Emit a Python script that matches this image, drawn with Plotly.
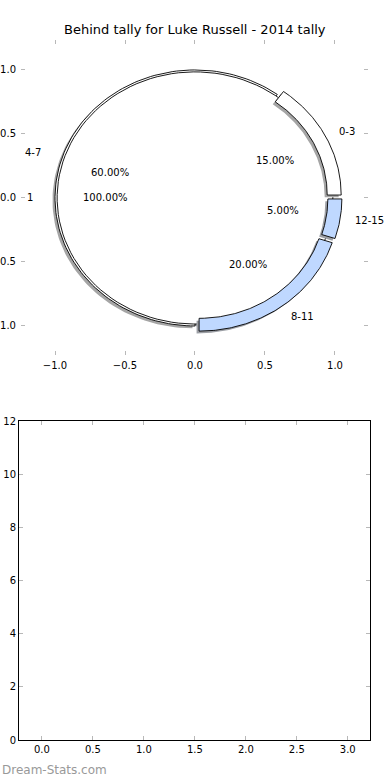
import numpy as np
import plotly.graph_objects as go

# ---------------- data ----------------
title_text = "Behind tally for Luke Russell - 2014 tally"
outer_labels = ["0-3", "4-7", "8-11", "12-15"]
outer_values = [15, 60, 20, 5]
outer_colors = ["#ffffff", "#ffffff", "#bfd8ff", "#bfd8ff"]
outer_explode = [0.05, 0.0, 0.05, 0.05]
inner_labels = ["1"]
inner_values = [100]
inner_colors = ["#ffffff"]
pie_ticks = [-1.0, -0.5, 0.0, 0.5, 1.0]
bottom_x_ticks = [0.0, 0.5, 1.0, 1.5, 2.0, 2.5, 3.0]
bottom_y_ticks = [0, 2, 4, 6, 8, 10, 12]
watermark_text = "Dream-Stats.com"

# ---------------- style ----------------
W, H = 390, 780
FONT = "DejaVu Sans"
START_ANGLE = 0.0
RING_IN, RING_OUT = 0.9, 1.0
INNER_R = 0.985
SHADOW = (-0.018, -0.018)
LABEL_R = 1.14
PCT_R = 0.64
TICK_COLOR = "#b8b8b8"


def shade(hex_color):
    h = hex_color.lstrip("#")
    r, g, b = (int(h[i:i + 2], 16) for i in (0, 2, 4))
    r, g, b = (int(0.5 * 0.3 * c + 0.5 * 255) for c in (r, g, b))
    return f"rgb({r},{g},{b})"


def wedge(t1, t2, r_in, r_out, cx=0.0, cy=0.0, n=120):
    th = np.radians(np.linspace(t1, t2, n))
    xo = cx + r_out * np.cos(th)
    yo = cy + r_out * np.sin(th)
    if r_in > 0:
        xi = cx + r_in * np.cos(th[::-1])
        yi = cy + r_in * np.sin(th[::-1])
    else:
        xi = np.array([cx]) if (t2 - t1) < 360 else np.array([])
        yi = np.array([cy]) if (t2 - t1) < 360 else np.array([])
    x = np.concatenate([xo, xi, xo[:1]])
    y = np.concatenate([yo, yi, yo[:1]])
    return x, y


def angles(values, start):
    total = float(sum(values))
    out = []
    a = start
    for v in values:
        d = 360.0 * v / total
        out.append((a, a + d))
        a += d
    return out


fig = go.Figure()


def add_poly(x, y, fill, line_color="black", line_width=0.9):
    fig.add_trace(go.Scatter(
        x=x, y=y, mode="lines", fill="toself", fillcolor=fill,
        line=dict(color=line_color, width=line_width),
        hoverinfo="skip", showlegend=False, xaxis="x", yaxis="y"))


outer_ang = angles(outer_values, START_ANGLE)
inner_ang = angles(inner_values, START_ANGLE)

# shadow of the inner pie (lowest)
for (t1, t2), col in zip(inner_ang, inner_colors):
    x, y = wedge(t1, t2, 0, INNER_R, SHADOW[0], SHADOW[1])
    add_poly(x, y, shade(col), line_color="rgba(0,0,0,0)", line_width=0)

# unexploded outer wedges (shadow + wedge), below the inner pie
for (t1, t2), col, ex in zip(outer_ang, outer_colors, outer_explode):
    if ex == 0:
        x, y = wedge(t1, t2, RING_IN, RING_OUT, SHADOW[0], SHADOW[1])
        add_poly(x, y, shade(col), line_color="rgba(0,0,0,0)", line_width=0)
for (t1, t2), col, ex in zip(outer_ang, outer_colors, outer_explode):
    if ex == 0:
        x, y = wedge(t1, t2, RING_IN, RING_OUT)
        add_poly(x, y, col)

# inner pie
for (t1, t2), col in zip(inner_ang, inner_colors):
    x, y = wedge(t1, t2, 0, INNER_R)
    add_poly(x, y, col)

# exploded outer wedges: shadows first, then wedges
exploded = []
for (t1, t2), col, ex in zip(outer_ang, outer_colors, outer_explode):
    if ex > 0:
        m = np.radians((t1 + t2) / 2)
        exploded.append((t1, t2, col, ex * np.cos(m), ex * np.sin(m)))
for t1, t2, col, cx, cy in exploded:
    x, y = wedge(t1, t2, RING_IN, RING_OUT, cx + SHADOW[0], cy + SHADOW[1])
    add_poly(x, y, shade(col), line_color="rgba(0,0,0,0)", line_width=0)
for t1, t2, col, cx, cy in exploded:
    x, y = wedge(t1, t2, RING_IN, RING_OUT, cx, cy)
    add_poly(x, y, col)

# labels
annotations = []
text_font = dict(family=FONT, size=10, color="black")
for lab, val, (t1, t2) in list(zip(outer_labels, outer_values, outer_ang)) + \
        list(zip(inner_labels, inner_values, inner_ang)):
    m = np.radians((t1 + t2) / 2)
    lx, ly = LABEL_R * np.cos(m), LABEL_R * np.sin(m)
    annotations.append(dict(
        x=lx, y=ly, xref="x", yref="y", text=lab, showarrow=False,
        xanchor="left" if np.cos(m) > 0 else "right", yanchor="middle",
        font=text_font))
    pct = 100.0 * val / sum(outer_values if lab in outer_labels else inner_values)
    annotations.append(dict(
        x=PCT_R * np.cos(m), y=PCT_R * np.sin(m), xref="x", yref="y",
        text=f"{pct:.2f}%", showarrow=False, xanchor="center", yanchor="middle",
        font=text_font))

annotations.append(dict(
    x=195 / W, y=1 - 30 / H, xref="paper", yref="paper", text=title_text,
    showarrow=False, xanchor="center", yanchor="middle",
    font=dict(family=FONT, size=13, color="black")))
annotations.append(dict(
    x=0, y=1 - 770 / H, xref="paper", yref="paper", text=watermark_text,
    showarrow=False, xanchor="left", yanchor="middle",
    font=dict(family=FONT, size=12, color="#999999")))

# empty trace on bottom axes
fig.add_trace(go.Scatter(x=[], y=[], xaxis="x2", yaxis="y2",
                         showlegend=False, hoverinfo="skip"))

tick_common = dict(ticks="inside", ticklen=4, tickwidth=1, tickcolor=TICK_COLOR,
                   showgrid=False, zeroline=False, automargin=False,
                   tickfont=dict(family=FONT, size=10, color="black"))

fig.update_layout(
    width=W, height=H, margin=dict(l=0, r=0, t=0, b=0),
    paper_bgcolor="white", plot_bgcolor="white", template="none",
    showlegend=False, annotations=annotations,
    xaxis=dict(domain=[21 / W, 368 / W], range=[-1.243, 1.236],
               tickvals=pie_ticks, tickformat=".1f", showline=False,
               mirror="ticks", anchor="y", ticklabelstandoff=3, **tick_common),
    yaxis=dict(domain=[1 - 355 / H, 1 - 40 / H], range=[-1.227, 1.234],
               tickvals=pie_ticks, tickformat=".1f", showline=False,
               mirror="ticks", anchor="x", ticklabelstandoff=4, **tick_common),
    xaxis2=dict(domain=[19 / W, 370 / W], range=[-0.225, 3.218],
                tickvals=bottom_x_ticks, tickformat=".1f", showline=True,
                linecolor="black", linewidth=1, mirror="ticks", anchor="y2",
                **tick_common),
    yaxis2=dict(domain=[1 - 740 / H, 1 - 421 / H], range=[0, 12],
                tickvals=bottom_y_ticks, showline=True,
                linecolor="black", linewidth=1, mirror="ticks", anchor="x2",
                **tick_common),
)

fig.write_html("out.html")
